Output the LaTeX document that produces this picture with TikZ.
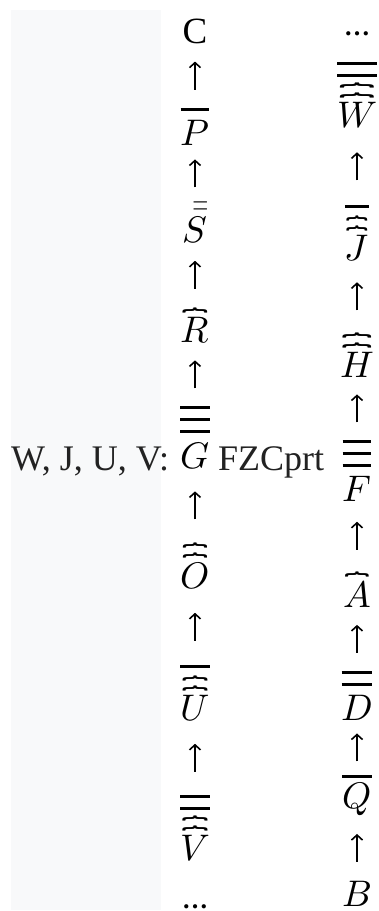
\documentclass[tikz,border=0pt]{standalone}
\usepackage{graphicx}
\usepackage{unicode-math}
\setmainfont{Liberation Serif}
\newfontfamily\bracefont{DejaVu Sans}
\usetikzlibrary{positioning,calc,arrows.meta}

\definecolor{panelgray}{HTML}{F8F9FA}
\definecolor{labelgray}{HTML}{222222}

% bar over a symbol, thicker and looser than \overline
\newcommand{\barover}[2][9pt]{\vbox{\hrule height 3pt\kern #1\hbox{#2}}}
% small curly brace over a symbol, about as wide as the symbol
\newbox\bracebox
\newcommand{\braceover}[1]{\setbox\bracebox\hbox{#1}%
  \vbox{\hbox to \wd\bracebox{\hss\resizebox*{0.85\wd\bracebox}{8pt}{\rotatebox{90}{\bracefont\bfseries\}}}\hss}%
    \nointerlineskip\kern 2pt\box\bracebox}}

\tikzset{
  sym/.style={inner sep=0pt, anchor=base, font=\fontsize{37}{40}\selectfont},
  dotsym/.style={sym, font=\fontsize{26}{28}\selectfont\bfseries},
  lbl/.style={inner sep=0pt, anchor=base west, font=\fontsize{36}{40}\selectfont, text=labelgray},
  up/.style={-{Straight Barb[length=5pt,width=11pt]}, line width=1.6pt,
    to path={($(\tikztostart.north)!.5!(\tikztotarget.south)$) ++(0,14) -- ++(0,-28)}}
}

\begin{document}
\begin{tikzpicture}[x=1pt,y=-1pt]
    \useasboundingbox (0,0) rectangle (378,911);
    % Panel
    \fill[panelgray] (11,10) rectangle (161,910);
    \node[lbl] (vars) at (11,470) {W, J, U, V:};
    \node[lbl] (fzc) at (218,470) {FZCprt};

    % Left chain
    \foreach \n/\y/\t in {c/43/{$\mathrm{C}$}, p/145/{\barover{$P$}}, s/242/{$\bar{\bar{S}}$},
        r/342/{\braceover{$R$}}, g/468/{\barover{\barover{\barover{$G$}}}},
        o/588/{\braceover{\braceover{$O$}}}, u/720/{\barover[7pt]{\braceover{\braceover{$U$}}}},
        v/860/{\barover{\barover[5pt]{\braceover{\braceover{$V$}}}}}}
        \node[sym] (\n) at (195,\y) {\t};
    \node[dotsym] (ldots) at (195,908) {…};
    \foreach \a/\b in {p/c, s/p, r/s, g/r, o/g, u/o, v/u} \draw[up] (\a) to (\b);

    % Right chain
    \node[dotsym] (rdots) at (357,35) {…};
    \foreach \n/\y/\t in {w/127/{\barover{\barover[5pt]{\braceover{\braceover{$W$}}}}},
        j/260/{\barover[7pt]{\braceover{\braceover{$J$}}}}, h/377/{\braceover{\braceover{$H$}}},
        f/501/{\barover{\barover{\barover{$F$}}}}, a/607/{\braceover{$A$}},
        d/720/{\barover{\barover{$D$}}}, q/808/{\barover[4pt]{$Q$}}, b/906/{$B$}}
        \node[sym] (\n) at (357,\y) {\t};
    \foreach \a/\b in {j/w, h/j, f/h, a/f, d/a, q/d, b/q} \draw[up] (\a) to (\b);
\end{tikzpicture}
\end{document}
